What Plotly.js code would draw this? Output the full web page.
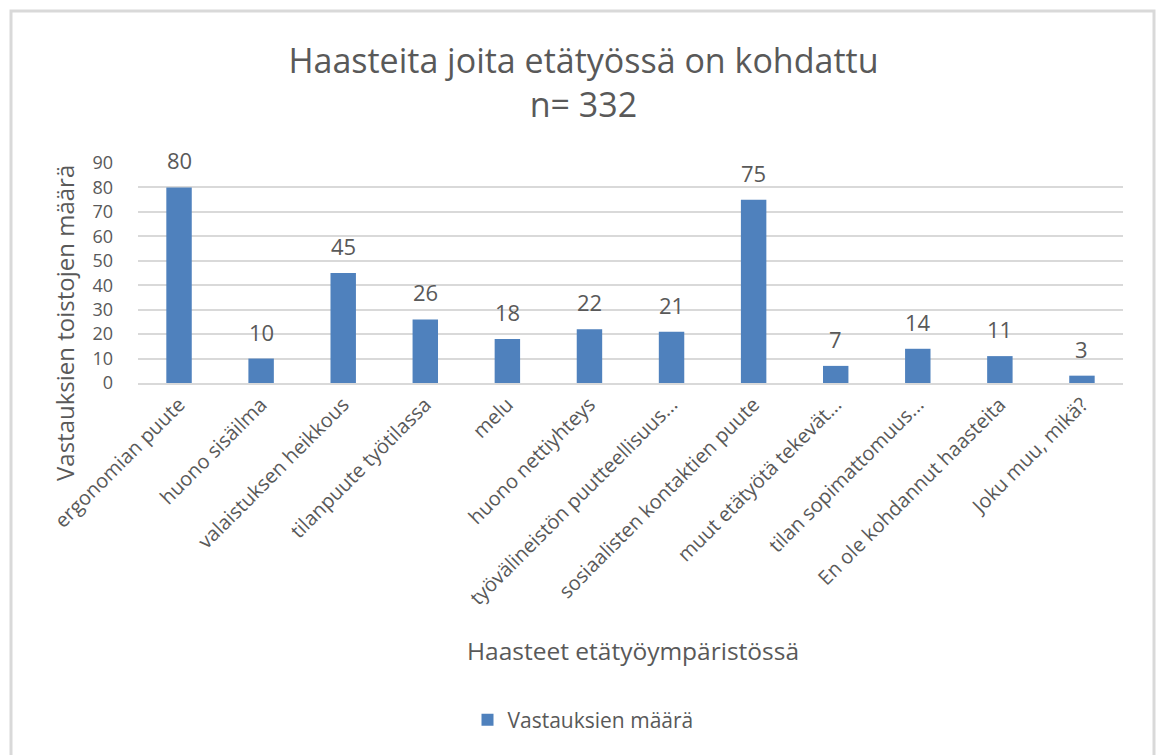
<!DOCTYPE html>
<html>
<head>
<meta charset="utf-8">
<script src="https://cdn.plot.ly/plotly-3.0.1.min.js"></script>
<style>
  html, body { margin: 0; padding: 0; background: #ffffff; }
  #chart { width: 1160px; height: 755px; }
</style>
</head>
<body>
<div id="chart"></div>
<script>
// ---- data ----
const categories = [
  "ergonomian puute",
  "huono sisäilma",
  "valaistuksen heikkous",
  "tilanpuute työtilassa",
  "melu",
  "huono nettiyhteys",
  "työvälineistön puutteellisuus...",
  "sosiaalisten kontaktien puute",
  "muut etätyötä tekevät...",
  "tilan sopimattomuus...",
  "En ole kohdannut haasteita",
  "Joku muu, mikä?"
];
const values = [80, 10, 45, 26, 18, 22, 21, 75, 7, 14, 11, 3];
const seriesName = "Vastauksien määrä";
const chartTitle = "Haasteita joita etätyössä on kohdattu<br>n= 332";
const xTitle = "Haasteet etätyöympäristössä";
const yTitle = "Vastauksien toistojen määrä";
const yTicks = [0, 10, 20, 30, 40, 50, 60, 70, 80, 90];

// ---- layout constants ----
const TXT = "#595959";
const GRID = "#d9d9d9";
const FONT = "Open Sans, Liberation Sans, sans-serif";
const L = 138, R = 37, T = 163, B = 372;
const W = 1160, H = 755;
const pw = W - L - R, ph = H - T - B;
const px2x = p => (p - L) / pw;
const py2y = p => (H - B - p) / ph;

const trace = {
  type: "bar",
  x: categories,
  y: values,
  name: seriesName,
  marker: { color: "#4f81bd" },
  showlegend: true,
  hoverinfo: "x+y"
};

const labelAnns = categories.map((c, i) => ({
  x: c, y: values[i], xref: "x", yref: "y",
  text: String(values[i]), showarrow: false,
  yanchor: "bottom", yshift: 10,
  font: { family: FONT, size: 22, color: TXT }
}));

const layout = {
  width: W, height: H,
  margin: { l: L, r: R, t: T, b: B, autoexpand: false },
  paper_bgcolor: "#ffffff",
  plot_bgcolor: "#ffffff",
  font: { family: FONT, color: TXT },
  bargap: 0.69,
  title: {
    text: chartTitle,
    x: 0.503, xanchor: "center",
    y: 1 - 73 / H, yanchor: "middle",
    font: { family: FONT, size: 34, color: TXT }
  },
  xaxis: {
    type: "category",
    tickangle: -45,
    tickfont: { family: FONT, size: 20, color: TXT },
    showgrid: false,
    showline: true, linecolor: GRID, linewidth: 2,
    ticks: "", automargin: false
  },
  yaxis: {
    range: [0, 90],
    tickvals: yTicks,
    tickfont: { family: FONT, size: 18, color: TXT },
    showgrid: true, gridcolor: GRID, gridwidth: 2,
    zeroline: false, showline: false, ticks: "",
    ticklabelstandoff: 24,
    automargin: false
  },
  legend: {
    orientation: "h",
    x: px2x(583), xanchor: "center",
    y: py2y(720), yanchor: "middle",
    font: { family: FONT, size: 21, color: TXT }
  },
  annotations: labelAnns.concat([
    {
      text: xTitle, xref: "paper", yref: "paper",
      x: px2x(633), y: py2y(650), xanchor: "center", yanchor: "middle",
      showarrow: false, font: { family: FONT, size: 24.5, color: TXT }
    },
    {
      text: yTitle, xref: "paper", yref: "paper", textangle: -90,
      x: px2x(64), y: py2y(323), xanchor: "center", yanchor: "middle",
      showarrow: false, font: { family: FONT, size: 24, color: TXT }
    }
  ]),
  shapes: [{
    type: "rect", xref: "paper", yref: "paper",
    x0: px2x(11), x1: px2x(1154), y0: py2y(775), y1: py2y(11),
    line: { color: "#d9d9d9", width: 3 }, fillcolor: "rgba(0,0,0,0)",
    layer: "below"
  }]
};

Plotly.newPlot("chart", [trace], layout, { displayModeBar: false, staticPlot: true });
</script>
</body>
</html>
